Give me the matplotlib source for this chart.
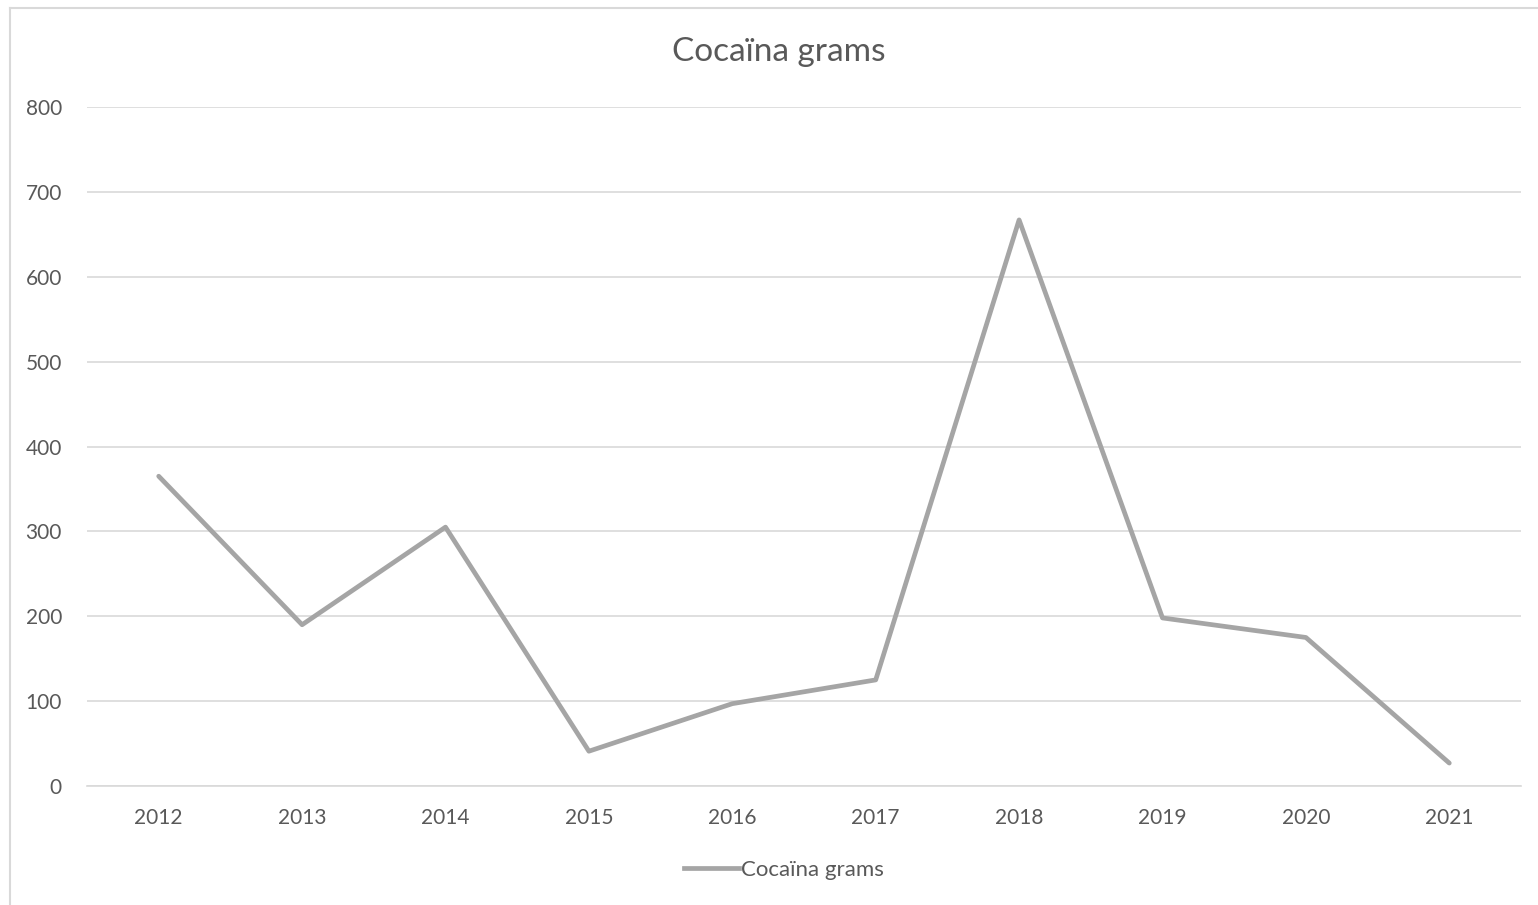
import matplotlib.pyplot as plt
from matplotlib.lines import Line2D

years = ['2012', '2013', '2014', '2015', '2016', '2017', '2018', '2019', '2020', '2021']
grams = [365, 190, 305, 41, 97, 125, 667, 198, 175, 27]
y_ticks = [0, 100, 200, 300, 400, 500, 600, 700, 800]

LINE_COLOR = '#A5A5A5'
GRID_COLOR = '#D9D9D9'
TEXT_COLOR = '#595959'

plt.rcParams['font.family'] = ['Lato', 'DejaVu Sans']

fig = plt.figure(figsize=(15.38, 9.05), dpi=100)
ax = fig.add_axes([87 / 1538, 1 - 786 / 905, (1521 - 87) / 1538, (786 - 107) / 905])

x = list(range(len(years)))
ax.plot(x, grams, color=LINE_COLOR, linewidth=3.4, solid_joinstyle='round', solid_capstyle='round')

ax.set_xlim(-0.5, len(years) - 0.5)
ax.set_ylim(0, 800)
ax.set_xticks(x)
ax.set_xticklabels(years)
ax.set_yticks(y_ticks)
ax.grid(axis='y', color=GRID_COLOR, linewidth=1.2)
ax.set_axisbelow(True)
for side in ['top', 'right', 'left']:
    ax.spines[side].set_visible(False)
ax.spines['bottom'].set_color(GRID_COLOR)
ax.spines['bottom'].set_linewidth(1.2)
ax.tick_params(axis='both', length=0, labelsize=15, labelcolor=TEXT_COLOR)
ax.tick_params(axis='x', pad=16)
ax.tick_params(axis='y', pad=18)

fig.text(779 / 1538, 1 - 52 / 905, 'Cocaïna grams', ha='center', va='center',
         fontsize=24, color=TEXT_COLOR)

handle = Line2D([], [], color=LINE_COLOR, linewidth=3.4)
fig.legend([handle], ['Cocaïna grams'], loc='center', bbox_to_anchor=(784 / 1538, 1 - 870 / 905),
           frameon=False, fontsize=16, labelcolor=TEXT_COLOR, handlelength=2.5, handletextpad=0.1)

# outer chart border (only top and left visible in the crop)
fig.add_artist(Line2D([10 / 1538, 10 / 1538], [0, 1 - 8 / 905], transform=fig.transFigure,
                      color=GRID_COLOR, linewidth=1.5))
fig.add_artist(Line2D([10 / 1538, 1], [1 - 8 / 905, 1 - 8 / 905], transform=fig.transFigure,
                      color=GRID_COLOR, linewidth=1.5))

fig.savefig('out.png', dpi=100)
